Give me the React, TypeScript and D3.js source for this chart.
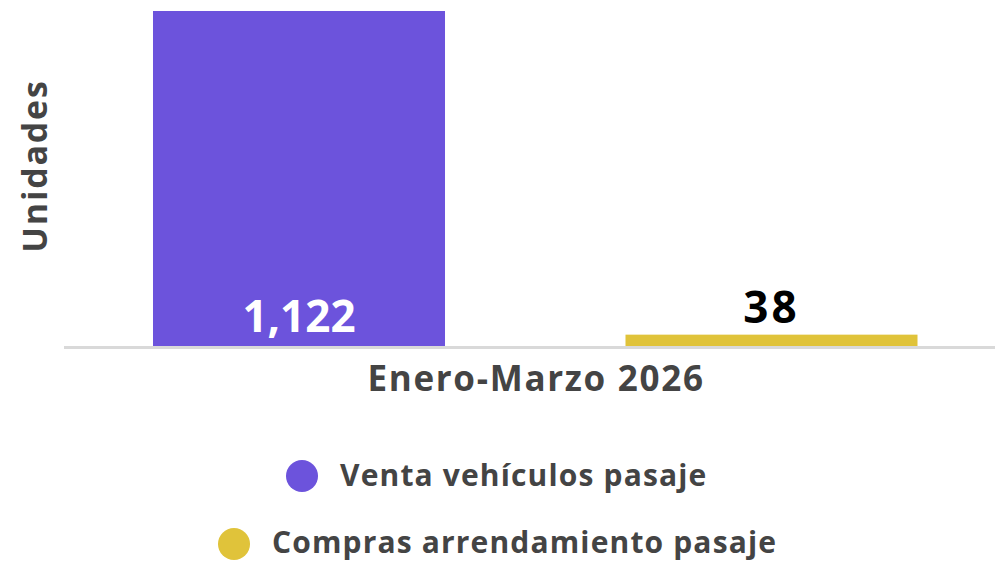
import React, { useEffect, useRef } from "react";
import * as d3 from "d3";

const categories = ["Venta vehículos pasaje", "Compras arrendamiento pasaje"];
const values = [1122, 38];
const colors = ["#6C53DC", "#E0C33A"];
const periodLabel = "Enero-Marzo 2026";
const yLabel = "Unidades";

const FONT = "'Open Sans', sans-serif";

function App() {
  const ref = useRef<SVGSVGElement>(null);

  useEffect(() => {
    drawChart();
  }, []);

  const drawChart = () => {
    const w = 995;

    const svg = d3.select(ref.current);
    svg.selectAll("*").remove();

    const x = d3
      .scaleBand()
      .domain(categories)
      .range([62.75, 1007.75])
      .paddingInner(0.382)
      .paddingOuter(0.191);

    const y = d3.scaleLinear().domain([0, 1122]).range([346, 11]);

    // bars
    svg
      .selectAll("rect.bar")
      .data(values)
      .enter()
      .append("rect")
      .attr("class", "bar")
      .attr("x", (d, i) => x(categories[i]))
      .attr("y", (d) => y(d))
      .attr("width", x.bandwidth())
      .attr("height", (d) => y(0) - y(d))
      .attr("fill", (d, i) => colors[i]);

    // baseline
    svg
      .append("line")
      .attr("x1", 64)
      .attr("x2", w)
      .attr("y1", y(0) + 1.5)
      .attr("y2", y(0) + 1.5)
      .attr("stroke", "#d9d9d9")
      .attr("stroke-width", 3);

    // value labels: inside when the bar is tall enough, above otherwise
    svg
      .selectAll("text.value")
      .data(values)
      .enter()
      .append("text")
      .attr("class", "value")
      .attr("x", (d, i) => x(categories[i]) + x.bandwidth() / 2)
      .attr("y", (d) => (y(0) - y(d) > 60 ? y(0) - 14 : y(d) - 12))
      .attr("text-anchor", "middle")
      .attr("font-family", FONT)
      .attr("font-weight", 700)
      .attr("font-size", 44)
      .attr("letter-spacing", (d) => (y(0) - y(d) > 60 ? 0 : 3))
      .attr("fill", (d) => (y(0) - y(d) > 60 ? "#ffffff" : "#000000"))
      .text((d) => d3.format(",")(d));

    // x label
    svg
      .append("text")
      .attr("x", 536)
      .attr("y", 391)
      .attr("text-anchor", "middle")
      .attr("font-family", FONT)
      .attr("font-weight", 700)
      .attr("font-size", 35)
      .attr("letter-spacing", 1.7)
      .attr("fill", "#444444")
      .text(periodLabel);

    // y label
    svg
      .append("text")
      .attr("transform", "translate(47,166) rotate(-90)")
      .attr("text-anchor", "middle")
      .attr("font-family", FONT)
      .attr("font-weight", 700)
      .attr("font-size", 34)
      .attr("letter-spacing", 1.8)
      .attr("fill", "#444444")
      .text(yLabel);

    // legend
    const legend = svg
      .selectAll("g.legend")
      .data(categories)
      .enter()
      .append("g")
      .attr("class", "legend")
      .attr("transform", (d, i) => `translate(${i === 0 ? 302 : 234},${476 + i * 68})`);

    legend
      .append("circle")
      .attr("r", 16)
      .attr("fill", (d, i) => colors[i]);

    legend
      .append("text")
      .attr("x", 38)
      .attr("y", (d, i) => (i === 0 ? 10 : 9))
      .attr("font-family", FONT)
      .attr("font-weight", 700)
      .attr("font-size", 30)
      .attr("letter-spacing", 1.15)
      .attr("fill", "#444444")
      .text((d) => d);
  };

  return (
    <svg
      ref={ref}
      width={995}
      height={562}
      style={{ position: "absolute", left: 0, top: 0, background: "#fff" }}
    />
  );
}

export default App;
